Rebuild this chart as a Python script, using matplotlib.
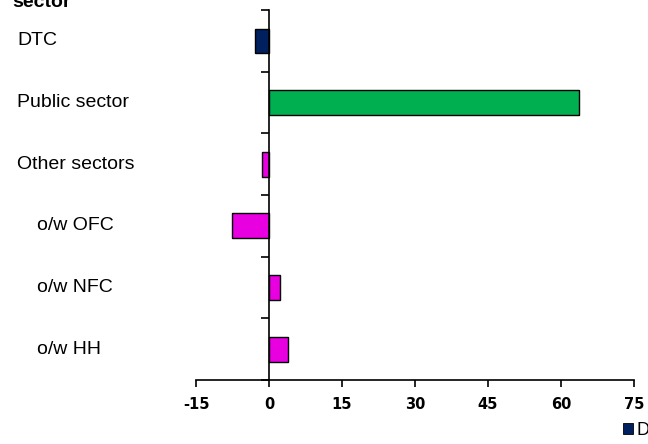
import matplotlib
matplotlib.use("Agg")
import matplotlib.pyplot as plt
import matplotlib.transforms as mtransforms
from matplotlib.patches import Patch

# data
labels = ["DTC", "Public sector", "Other sectors", "o/w OFC", "o/w NFC", "o/w HH"]
indent = [False, False, False, True, True, True]
values = [-2.9, 63.7, -1.5, -7.6, 2.3, 3.9]
colors = ["#002060", "#00B050", "#E800E0", "#E800E0", "#E800E0", "#E800E0"]
xticks = [-15, 0, 15, 30, 45, 60, 75]
legend_names = ["DTC", "Public sector", "Other sectors"]
legend_colors = ["#002060", "#00B050", "#E800E0"]

fig = plt.figure(figsize=(6.48, 4.44), dpi=100)
ax = fig.add_axes([196/648, 1-380/444, 438/648, 370/444])

pos = list(range(len(labels)))
ax.barh(pos, values, height=0.4, color=colors, edgecolor="black", linewidth=1)

ax.set_xlim(-15, 75)
ax.set_ylim(len(labels)-0.5, -0.5)
ax.set_xticks(xticks)
ax.set_xticklabels([str(v) for v in xticks], fontweight="bold", fontsize=10.5,
                   family="DejaVu Sans")
ax.set_yticks([p - 0.5 for p in pos] + [len(labels)-0.5])
ax.set_yticklabels([])

ax.spines["top"].set_visible(False)
ax.spines["right"].set_visible(False)
ax.spines["left"].set_position(("data", 0))
ax.spines["left"].set_linewidth(1.2)
ax.spines["bottom"].set_linewidth(1.2)
ax.tick_params(axis="x", direction="out", length=5, width=1.2, pad=7)
ax.tick_params(axis="y", direction="out", length=6, width=1.2)

tr = mtransforms.blended_transform_factory(fig.transFigure, ax.transData)
for p, lab, ind in zip(pos, labels, indent):
    x = 37/648 if ind else 17/648
    fig.text(x, p, lab, transform=tr, ha="left", va="center",
             fontsize=14, family="Liberation Sans")

fig.text(12/648, 1-7/444, "sector", ha="left", va="baseline",
         fontsize=14, fontweight="bold", family="Liberation Sans")

handles = [Patch(facecolor=c, edgecolor="black", linewidth=0.6) for c in legend_colors]
fig.legend(handles, legend_names, loc="lower left", ncol=3, frameon=False,
           bbox_to_anchor=(609/648, -0.022), handlelength=0.55, handleheight=0.55,
           handletextpad=0.2, columnspacing=1.0, borderpad=0.3,
           prop={"family": "Liberation Sans", "size": 13})

fig.savefig("out.png", dpi=100)
